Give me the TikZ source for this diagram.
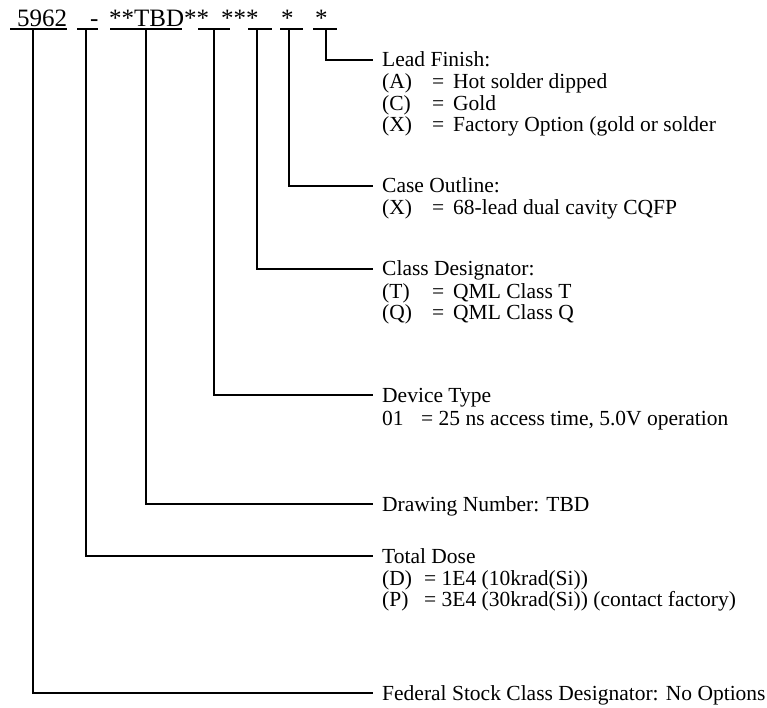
\documentclass[tikz,border=0pt]{standalone}
\usepackage{fontspec}
\setmainfont{Liberation Serif}
\begin{document}
\begin{tikzpicture}[x=1pt,y=-1pt,
  code/.style={anchor=base west, inner sep=0pt, font=\fontsize{25}{27}\selectfont},
  lbl/.style={anchor=west, inner xsep=9pt, inner ysep=0pt, text height=14pt, text depth=0pt, font=\fontsize{21.5}{22}\selectfont},
  opt/.style={anchor=base west, inner sep=0pt, font=\fontsize{21.5}{22}\selectfont},
  uline/.style={line width=2pt},
  conn/.style={line width=2.6pt}]
\useasboundingbox (0,0) rectangle (767,708);
% part number on top
		\node (c1)[code] at (17,27) {5962} ; 
\node (c2)[code] at (90,27) {-} ;
\node (c3)[code] at (109,27) {**TBD**} ;
\node (c4)[code] at (221,27) {***} ;
\node (c5)[code] at (281,27) {*} ;
\node (c6)[code] at (315,27) {*} ;
\draw[uline] (10,29.5) -- (67,29.5) ;
\draw[uline] (77,29.5) -- (98,29.5) ;
\draw[uline] (110,29.5) -- (182,29.5) ;
\draw[uline] (198,29.5) -- (230,29.5) ;
\draw[uline] (248,29.5) -- (272,29.5) ;
\draw[uline] (280,29.5) -- (303,29.5) ;
\draw[uline] (313,29.5) -- (337,29.5) ;
\coordinate (u1) at (33,29.5) ;
\coordinate (u2) at (86,29.5) ;
\coordinate (u3) at (146,29.5) ;
\coordinate (u4) at (214,29.5) ;
\coordinate (u5) at (257,29.5) ;
\coordinate (u6) at (289,29.5) ;
\coordinate (u7) at (326,29.5) ;

% field descriptions
\node (d7)[lbl] at (373,60) {Lead Finish:} ;
		\node (d7a)[opt] at (382,89) {\makebox[50pt][l]{(A)}\makebox[21pt][l]{=}Hot solder dipped} ; 
		\node (d7c)[opt] at (382,110.5) {\makebox[50pt][l]{(C)}\makebox[21pt][l]{=}Gold} ; 
		\node (d7x)[opt] at (382,132) {\makebox[50pt][l]{(X)}\makebox[21pt][l]{=}Factory Option (gold or solder} ; 
\node (d6)[lbl] at (373,186) {Case Outline:} ;
		\node (d6x)[opt] at (382,215) {\makebox[50pt][l]{(X)}\makebox[21pt][l]{=}68-lead dual cavity CQFP} ; 
\node (d5)[lbl] at (373,269) {Class Designator:} ;
		\node (d5t)[opt] at (382,298) {\makebox[50pt][l]{(T)}\makebox[21pt][l]{=}QML Class T} ; 
		\node (d5q)[opt] at (382,319.5) {\makebox[50pt][l]{(Q)}\makebox[21pt][l]{=}QML Class Q} ; 
\node (d4)[lbl] at (373,395) {Device Type} ;
		\node (d4a)[opt] at (382,425) {\makebox[39pt][l]{01}= 25 ns access time, 5.0V operation} ; 
\node (d3)[lbl] at (373,504) {Drawing Number: TBD} ;
\node (d2)[lbl] at (373,556) {Total Dose} ;
		\node (d2d)[opt] at (382,585) {\makebox[42pt][l]{(D)}= 1E4 (10krad(Si))} ; 
		\node (d2p)[opt] at (382,606.5) {\makebox[42pt][l]{(P)}= 3E4 (30krad(Si)) (contact factory)} ; 
\node (d1)[lbl] at (373,693) {Federal Stock Class Designator: No Options} ;

\draw[conn] (u1) |- (d1.west) ;
\draw[conn] (u2) |- (d2.west) ;
\draw[conn] (u3) |- (d3.west) ;
\draw[conn] (u4) |- (d4.west) ;
\draw[conn] (u5) |- (d5.west) ;
\draw[conn] (u6) |- (d6.west) ;
\draw[conn] (u7) |- (d7.west) ;
\end{tikzpicture}
\end{document}
